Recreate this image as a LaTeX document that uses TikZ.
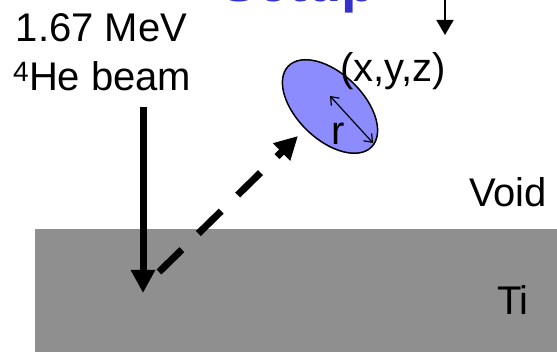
\documentclass[tikz,border=0pt]{standalone}
\usepackage{fontspec}
\setmainfont{Liberation Sans}
\usetikzlibrary{arrows.meta}
\definecolor{tigray}{HTML}{8F8F8F}
\definecolor{voidblue}{HTML}{8C8CFF}
\definecolor{titleblue}{HTML}{3333CC}
\tikzset{
  lbl/.style={inner sep=0pt, outer sep=0pt, anchor=base west, font=\fontsize{40}{48}\selectfont},
  bigarrow/.style={line width=7pt, -{Triangle[length=23pt,width=23pt]}},
  thinarrow/.style={line width=1.6pt, -{Triangle[length=15pt,width=17pt]}},
  radarrow/.style={line width=1.2pt, {Straight Barb[length=7pt,width=11pt]}-{Straight Barb[length=7pt,width=11pt]}},
}
\begin{document}
\begin{tikzpicture}[x=1pt,y=1pt]
\useasboundingbox (0,0) rectangle (557,352);
% Ti substrate
\fill[tigray] (35,0) rectangle (557,123);
% title (cut off at top, as in the reference)
\node[lbl, text=titleblue, font=\fontsize{56}{64}\selectfont\bfseries] (title) at (220,350.5) {Setup};
% labels
\node[lbl] (energy) at (16,310) {1.67 MeV};
\node[lbl] (beamlbl) at (13,261) {\textsuperscript{4}He beam};
\node[lbl] (void) at (469,145) {Void};
\node[lbl] (ti) at (497,37) {Ti};
% void ellipse
\coordinate (vc) at (330,245.5);
\draw[fill=voidblue, line width=1.5pt] (vc) ellipse [x radius=58, y radius=33, rotate=-44];
\node[lbl] (pos) at (340,270) {(x,y,z)};
\node[lbl] (rlbl) at (331,207) {r};
% radius arrow
\coordinate (r1) at (330,256);
\coordinate (r2) at (373,209);
\draw[radarrow] (r1) -- (r2);
% top arrow
\coordinate (t1) at (445,360);
\coordinate (t2) at (445,317);
\draw[thinarrow] (t1) -- (t2);
% beam arrow
\coordinate (b1) at (143,245);
\coordinate (b2) at (143,59);
\draw[bigarrow] (b1) -- (b2);
% scattered particle
\coordinate (s1) at (159,80);
\coordinate (s2) at (298,216);
\draw[bigarrow, dash pattern=on 32pt off 23pt] (s1) -- (s2);
\end{tikzpicture}
\end{document}
